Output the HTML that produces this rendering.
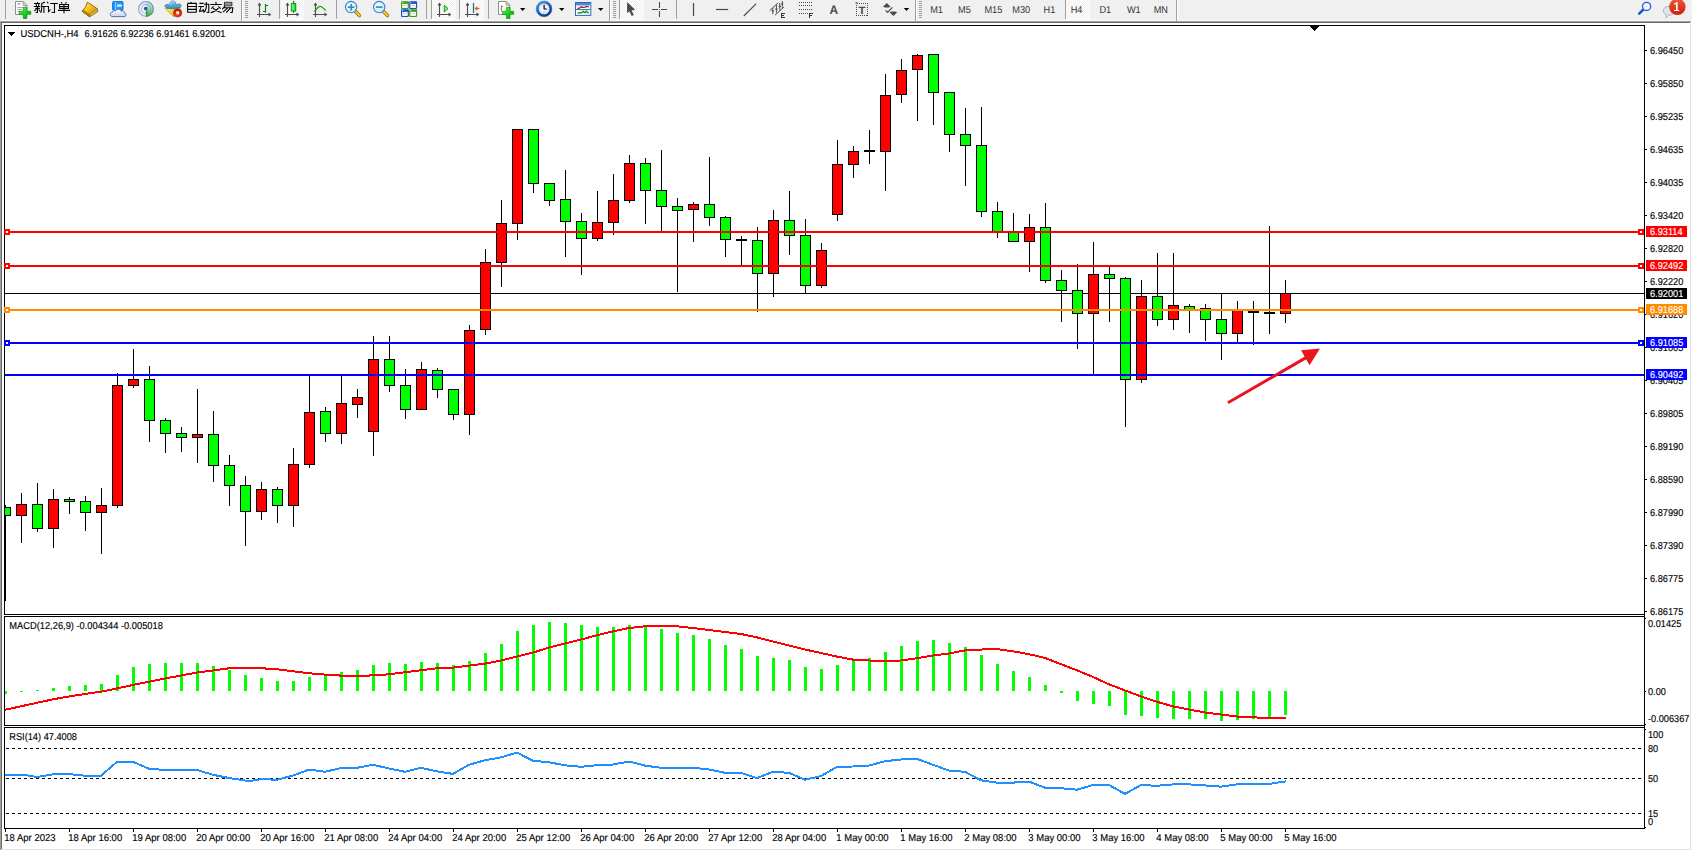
<!DOCTYPE html>
<html lang="zh"><head><meta charset="utf-8"><title>USDCNH-,H4</title>
<style>html,body{margin:0;padding:0;background:#f0f0f0;overflow:hidden}body{width:1692px;height:851px;position:relative;font-family:"Liberation Sans",sans-serif}svg{position:absolute;left:0;top:0;display:block}svg text{font-family:"Liberation Sans",sans-serif;text-rendering:geometricPrecision}</style>
</head><body>
<svg width="1692" height="851" viewBox="0 0 1692 851">
<g shape-rendering="crispEdges">
<rect x="0" y="0" width="1692" height="851" fill="#f0f0f0"/>
<rect x="0" y="20" width="1692" height="1" fill="#f8f8f8"/>
<rect x="0" y="21" width="1691" height="1" fill="#a0a0a0"/>
<rect x="0" y="21" width="1" height="830" fill="#a0a0a0"/>
<rect x="1" y="22" width="1689" height="1" fill="#696969"/>
<rect x="1" y="22" width="1" height="828" fill="#696969"/>
<rect x="2" y="23" width="1688" height="826" fill="#ffffff"/>
<rect x="1690" y="22" width="1" height="828" fill="#e3e3e3"/>
<rect x="1" y="849" width="1690" height="1" fill="#e3e3e3"/>
<rect x="1691" y="21" width="1" height="830" fill="#ffffff"/>
<rect x="0" y="850" width="1692" height="1" fill="#ffffff"/>
</g>
<g shape-rendering="crispEdges">
<rect x="4" y="25" width="1641" height="1" fill="#000"/>
<rect x="4" y="25" width="1" height="590" fill="#000"/>
<rect x="4" y="614" width="1641" height="1" fill="#000"/>
<rect x="4" y="616" width="1641" height="1" fill="#000"/>
<rect x="4" y="616" width="1" height="110" fill="#000"/>
<rect x="4" y="725" width="1641" height="1" fill="#000"/>
<rect x="4" y="727" width="1641" height="1" fill="#000"/>
<rect x="4" y="727" width="1" height="102" fill="#000"/>
<rect x="4" y="828" width="1641" height="1" fill="#000"/>
<rect x="1644" y="25" width="1" height="804" fill="#000"/>
<rect x="1310" y="26" width="9" height="1" fill="#000"/>
<rect x="1311" y="27" width="7" height="1" fill="#000"/>
<rect x="1312" y="28" width="5" height="1" fill="#000"/>
<rect x="1313" y="29" width="3" height="1" fill="#000"/>
<rect x="1314" y="30" width="1" height="1" fill="#000"/>
<rect x="5" y="293" width="1639" height="1" fill="#000"/>
<rect x="5" y="505" width="1" height="96" fill="#000"/>
<rect x="5" y="507" width="6" height="9" fill="#000"/>
<rect x="5" y="508" width="5" height="7" fill="#00ff00"/>
<rect x="21" y="493" width="1" height="50" fill="#000"/>
<rect x="16" y="504" width="11" height="12" fill="#000"/>
<rect x="17" y="505" width="9" height="10" fill="#ff0000"/>
<rect x="37" y="483" width="1" height="49" fill="#000"/>
<rect x="32" y="504" width="11" height="25" fill="#000"/>
<rect x="33" y="505" width="9" height="23" fill="#00ff00"/>
<rect x="53" y="489" width="1" height="59" fill="#000"/>
<rect x="48" y="499" width="11" height="30" fill="#000"/>
<rect x="49" y="500" width="9" height="28" fill="#ff0000"/>
<rect x="69" y="497" width="1" height="17" fill="#000"/>
<rect x="64" y="499" width="11" height="3" fill="#000"/>
<rect x="65" y="500" width="9" height="1" fill="#00ff00"/>
<rect x="85" y="496" width="1" height="35" fill="#000"/>
<rect x="80" y="501" width="11" height="12" fill="#000"/>
<rect x="81" y="502" width="9" height="10" fill="#00ff00"/>
<rect x="101" y="488" width="1" height="66" fill="#000"/>
<rect x="96" y="505" width="11" height="8" fill="#000"/>
<rect x="97" y="506" width="9" height="6" fill="#ff0000"/>
<rect x="117" y="373" width="1" height="135" fill="#000"/>
<rect x="112" y="385" width="11" height="121" fill="#000"/>
<rect x="113" y="386" width="9" height="119" fill="#ff0000"/>
<rect x="133" y="349" width="1" height="39" fill="#000"/>
<rect x="128" y="379" width="11" height="7" fill="#000"/>
<rect x="129" y="380" width="9" height="5" fill="#ff0000"/>
<rect x="149" y="366" width="1" height="76" fill="#000"/>
<rect x="144" y="379" width="11" height="42" fill="#000"/>
<rect x="145" y="380" width="9" height="40" fill="#00ff00"/>
<rect x="165" y="418" width="1" height="35" fill="#000"/>
<rect x="160" y="420" width="11" height="14" fill="#000"/>
<rect x="161" y="421" width="9" height="12" fill="#00ff00"/>
<rect x="181" y="427" width="1" height="25" fill="#000"/>
<rect x="176" y="433" width="11" height="5" fill="#000"/>
<rect x="177" y="434" width="9" height="3" fill="#00ff00"/>
<rect x="197" y="389" width="1" height="74" fill="#000"/>
<rect x="192" y="434" width="11" height="4" fill="#000"/>
<rect x="193" y="435" width="9" height="2" fill="#ff0000"/>
<rect x="213" y="411" width="1" height="71" fill="#000"/>
<rect x="208" y="434" width="11" height="32" fill="#000"/>
<rect x="209" y="435" width="9" height="30" fill="#00ff00"/>
<rect x="229" y="455" width="1" height="51" fill="#000"/>
<rect x="224" y="465" width="11" height="21" fill="#000"/>
<rect x="225" y="466" width="9" height="19" fill="#00ff00"/>
<rect x="245" y="476" width="1" height="70" fill="#000"/>
<rect x="240" y="485" width="11" height="27" fill="#000"/>
<rect x="241" y="486" width="9" height="25" fill="#00ff00"/>
<rect x="261" y="482" width="1" height="38" fill="#000"/>
<rect x="256" y="489" width="11" height="23" fill="#000"/>
<rect x="257" y="490" width="9" height="21" fill="#ff0000"/>
<rect x="277" y="487" width="1" height="36" fill="#000"/>
<rect x="272" y="489" width="11" height="17" fill="#000"/>
<rect x="273" y="490" width="9" height="15" fill="#00ff00"/>
<rect x="293" y="448" width="1" height="79" fill="#000"/>
<rect x="288" y="464" width="11" height="42" fill="#000"/>
<rect x="289" y="465" width="9" height="40" fill="#ff0000"/>
<rect x="309" y="375" width="1" height="93" fill="#000"/>
<rect x="304" y="412" width="11" height="53" fill="#000"/>
<rect x="305" y="413" width="9" height="51" fill="#ff0000"/>
<rect x="325" y="407" width="1" height="35" fill="#000"/>
<rect x="320" y="411" width="11" height="23" fill="#000"/>
<rect x="321" y="412" width="9" height="21" fill="#00ff00"/>
<rect x="341" y="375" width="1" height="69" fill="#000"/>
<rect x="336" y="403" width="11" height="31" fill="#000"/>
<rect x="337" y="404" width="9" height="29" fill="#ff0000"/>
<rect x="357" y="389" width="1" height="29" fill="#000"/>
<rect x="352" y="397" width="11" height="8" fill="#000"/>
<rect x="353" y="398" width="9" height="6" fill="#ff0000"/>
<rect x="373" y="336" width="1" height="120" fill="#000"/>
<rect x="368" y="359" width="11" height="73" fill="#000"/>
<rect x="369" y="360" width="9" height="71" fill="#ff0000"/>
<rect x="389" y="336" width="1" height="56" fill="#000"/>
<rect x="384" y="359" width="11" height="27" fill="#000"/>
<rect x="385" y="360" width="9" height="25" fill="#00ff00"/>
<rect x="405" y="369" width="1" height="50" fill="#000"/>
<rect x="400" y="385" width="11" height="25" fill="#000"/>
<rect x="401" y="386" width="9" height="23" fill="#00ff00"/>
<rect x="421" y="362" width="1" height="48" fill="#000"/>
<rect x="416" y="369" width="11" height="41" fill="#000"/>
<rect x="417" y="370" width="9" height="39" fill="#ff0000"/>
<rect x="437" y="368" width="1" height="30" fill="#000"/>
<rect x="432" y="370" width="11" height="20" fill="#000"/>
<rect x="433" y="371" width="9" height="18" fill="#00ff00"/>
<rect x="453" y="389" width="1" height="31" fill="#000"/>
<rect x="448" y="389" width="11" height="26" fill="#000"/>
<rect x="449" y="390" width="9" height="24" fill="#00ff00"/>
<rect x="469" y="325" width="1" height="110" fill="#000"/>
<rect x="464" y="330" width="11" height="85" fill="#000"/>
<rect x="465" y="331" width="9" height="83" fill="#ff0000"/>
<rect x="485" y="249" width="1" height="86" fill="#000"/>
<rect x="480" y="262" width="11" height="68" fill="#000"/>
<rect x="481" y="263" width="9" height="66" fill="#ff0000"/>
<rect x="501" y="200" width="1" height="87" fill="#000"/>
<rect x="496" y="223" width="11" height="40" fill="#000"/>
<rect x="497" y="224" width="9" height="38" fill="#ff0000"/>
<rect x="517" y="129" width="1" height="111" fill="#000"/>
<rect x="512" y="129" width="11" height="95" fill="#000"/>
<rect x="513" y="130" width="9" height="93" fill="#ff0000"/>
<rect x="533" y="129" width="1" height="64" fill="#000"/>
<rect x="528" y="129" width="11" height="55" fill="#000"/>
<rect x="529" y="130" width="9" height="53" fill="#00ff00"/>
<rect x="549" y="183" width="1" height="23" fill="#000"/>
<rect x="544" y="183" width="11" height="18" fill="#000"/>
<rect x="545" y="184" width="9" height="16" fill="#00ff00"/>
<rect x="565" y="170" width="1" height="87" fill="#000"/>
<rect x="560" y="199" width="11" height="23" fill="#000"/>
<rect x="561" y="200" width="9" height="21" fill="#00ff00"/>
<rect x="581" y="213" width="1" height="62" fill="#000"/>
<rect x="576" y="221" width="11" height="18" fill="#000"/>
<rect x="577" y="222" width="9" height="16" fill="#00ff00"/>
<rect x="597" y="191" width="1" height="50" fill="#000"/>
<rect x="592" y="222" width="11" height="17" fill="#000"/>
<rect x="593" y="223" width="9" height="15" fill="#ff0000"/>
<rect x="613" y="174" width="1" height="61" fill="#000"/>
<rect x="608" y="200" width="11" height="23" fill="#000"/>
<rect x="609" y="201" width="9" height="21" fill="#ff0000"/>
<rect x="629" y="155" width="1" height="48" fill="#000"/>
<rect x="624" y="163" width="11" height="38" fill="#000"/>
<rect x="625" y="164" width="9" height="36" fill="#ff0000"/>
<rect x="645" y="158" width="1" height="66" fill="#000"/>
<rect x="640" y="163" width="11" height="28" fill="#000"/>
<rect x="641" y="164" width="9" height="26" fill="#00ff00"/>
<rect x="661" y="150" width="1" height="82" fill="#000"/>
<rect x="656" y="190" width="11" height="17" fill="#000"/>
<rect x="657" y="191" width="9" height="15" fill="#00ff00"/>
<rect x="677" y="198" width="1" height="94" fill="#000"/>
<rect x="672" y="206" width="11" height="5" fill="#000"/>
<rect x="673" y="207" width="9" height="3" fill="#00ff00"/>
<rect x="693" y="202" width="1" height="40" fill="#000"/>
<rect x="688" y="204" width="11" height="6" fill="#000"/>
<rect x="689" y="205" width="9" height="4" fill="#ff0000"/>
<rect x="709" y="157" width="1" height="69" fill="#000"/>
<rect x="704" y="204" width="11" height="14" fill="#000"/>
<rect x="705" y="205" width="9" height="12" fill="#00ff00"/>
<rect x="725" y="216" width="1" height="41" fill="#000"/>
<rect x="720" y="217" width="11" height="23" fill="#000"/>
<rect x="721" y="218" width="9" height="21" fill="#00ff00"/>
<rect x="741" y="236" width="1" height="31" fill="#000"/>
<rect x="736" y="239" width="11" height="2" fill="#000"/>
<rect x="757" y="227" width="1" height="85" fill="#000"/>
<rect x="752" y="240" width="11" height="34" fill="#000"/>
<rect x="753" y="241" width="9" height="32" fill="#00ff00"/>
<rect x="773" y="210" width="1" height="87" fill="#000"/>
<rect x="768" y="220" width="11" height="54" fill="#000"/>
<rect x="769" y="221" width="9" height="52" fill="#ff0000"/>
<rect x="789" y="191" width="1" height="64" fill="#000"/>
<rect x="784" y="220" width="11" height="16" fill="#000"/>
<rect x="785" y="221" width="9" height="14" fill="#00ff00"/>
<rect x="805" y="219" width="1" height="75" fill="#000"/>
<rect x="800" y="235" width="11" height="51" fill="#000"/>
<rect x="801" y="236" width="9" height="49" fill="#00ff00"/>
<rect x="821" y="243" width="1" height="45" fill="#000"/>
<rect x="816" y="250" width="11" height="36" fill="#000"/>
<rect x="817" y="251" width="9" height="34" fill="#ff0000"/>
<rect x="837" y="140" width="1" height="81" fill="#000"/>
<rect x="832" y="164" width="11" height="51" fill="#000"/>
<rect x="833" y="165" width="9" height="49" fill="#ff0000"/>
<rect x="853" y="146" width="1" height="32" fill="#000"/>
<rect x="848" y="151" width="11" height="14" fill="#000"/>
<rect x="849" y="152" width="9" height="12" fill="#ff0000"/>
<rect x="869" y="130" width="1" height="34" fill="#000"/>
<rect x="864" y="150" width="11" height="2" fill="#000"/>
<rect x="885" y="74" width="1" height="117" fill="#000"/>
<rect x="880" y="95" width="11" height="57" fill="#000"/>
<rect x="881" y="96" width="9" height="55" fill="#ff0000"/>
<rect x="901" y="59" width="1" height="44" fill="#000"/>
<rect x="896" y="70" width="11" height="25" fill="#000"/>
<rect x="897" y="71" width="9" height="23" fill="#ff0000"/>
<rect x="917" y="54" width="1" height="67" fill="#000"/>
<rect x="912" y="55" width="11" height="15" fill="#000"/>
<rect x="913" y="56" width="9" height="13" fill="#ff0000"/>
<rect x="933" y="54" width="1" height="71" fill="#000"/>
<rect x="928" y="54" width="11" height="39" fill="#000"/>
<rect x="929" y="55" width="9" height="37" fill="#00ff00"/>
<rect x="949" y="92" width="1" height="60" fill="#000"/>
<rect x="944" y="92" width="11" height="43" fill="#000"/>
<rect x="945" y="93" width="9" height="41" fill="#00ff00"/>
<rect x="965" y="108" width="1" height="78" fill="#000"/>
<rect x="960" y="134" width="11" height="12" fill="#000"/>
<rect x="961" y="135" width="9" height="10" fill="#00ff00"/>
<rect x="981" y="107" width="1" height="110" fill="#000"/>
<rect x="976" y="145" width="11" height="67" fill="#000"/>
<rect x="977" y="146" width="9" height="65" fill="#00ff00"/>
<rect x="997" y="202" width="1" height="36" fill="#000"/>
<rect x="992" y="211" width="11" height="22" fill="#000"/>
<rect x="993" y="212" width="9" height="20" fill="#00ff00"/>
<rect x="1013" y="213" width="1" height="29" fill="#000"/>
<rect x="1008" y="231" width="11" height="11" fill="#000"/>
<rect x="1009" y="232" width="9" height="9" fill="#00ff00"/>
<rect x="1029" y="214" width="1" height="58" fill="#000"/>
<rect x="1024" y="227" width="11" height="15" fill="#000"/>
<rect x="1025" y="228" width="9" height="13" fill="#ff0000"/>
<rect x="1045" y="203" width="1" height="80" fill="#000"/>
<rect x="1040" y="227" width="11" height="54" fill="#000"/>
<rect x="1041" y="228" width="9" height="52" fill="#00ff00"/>
<rect x="1061" y="270" width="1" height="52" fill="#000"/>
<rect x="1056" y="280" width="11" height="11" fill="#000"/>
<rect x="1057" y="281" width="9" height="9" fill="#00ff00"/>
<rect x="1077" y="264" width="1" height="85" fill="#000"/>
<rect x="1072" y="290" width="11" height="24" fill="#000"/>
<rect x="1073" y="291" width="9" height="22" fill="#00ff00"/>
<rect x="1093" y="242" width="1" height="133" fill="#000"/>
<rect x="1088" y="274" width="11" height="40" fill="#000"/>
<rect x="1089" y="275" width="9" height="38" fill="#ff0000"/>
<rect x="1109" y="266" width="1" height="56" fill="#000"/>
<rect x="1104" y="274" width="11" height="5" fill="#000"/>
<rect x="1105" y="275" width="9" height="3" fill="#00ff00"/>
<rect x="1125" y="277" width="1" height="150" fill="#000"/>
<rect x="1120" y="278" width="11" height="102" fill="#000"/>
<rect x="1121" y="279" width="9" height="100" fill="#00ff00"/>
<rect x="1141" y="280" width="1" height="103" fill="#000"/>
<rect x="1136" y="296" width="11" height="84" fill="#000"/>
<rect x="1137" y="297" width="9" height="82" fill="#ff0000"/>
<rect x="1157" y="253" width="1" height="73" fill="#000"/>
<rect x="1152" y="296" width="11" height="24" fill="#000"/>
<rect x="1153" y="297" width="9" height="22" fill="#00ff00"/>
<rect x="1173" y="253" width="1" height="77" fill="#000"/>
<rect x="1168" y="305" width="11" height="15" fill="#000"/>
<rect x="1169" y="306" width="9" height="13" fill="#ff0000"/>
<rect x="1189" y="304" width="1" height="29" fill="#000"/>
<rect x="1184" y="306" width="11" height="4" fill="#000"/>
<rect x="1185" y="307" width="9" height="2" fill="#00ff00"/>
<rect x="1205" y="304" width="1" height="37" fill="#000"/>
<rect x="1200" y="308" width="11" height="12" fill="#000"/>
<rect x="1201" y="309" width="9" height="10" fill="#00ff00"/>
<rect x="1221" y="293" width="1" height="67" fill="#000"/>
<rect x="1216" y="319" width="11" height="15" fill="#000"/>
<rect x="1217" y="320" width="9" height="13" fill="#00ff00"/>
<rect x="1237" y="301" width="1" height="42" fill="#000"/>
<rect x="1232" y="310" width="11" height="24" fill="#000"/>
<rect x="1233" y="311" width="9" height="22" fill="#ff0000"/>
<rect x="1253" y="301" width="1" height="44" fill="#000"/>
<rect x="1248" y="311" width="11" height="2" fill="#000"/>
<rect x="1269" y="226" width="1" height="108" fill="#000"/>
<rect x="1264" y="312" width="11" height="2" fill="#000"/>
<rect x="1285" y="280" width="1" height="43" fill="#000"/>
<rect x="1280" y="293" width="11" height="21" fill="#000"/>
<rect x="1281" y="294" width="9" height="19" fill="#ff0000"/>
<rect x="4" y="231" width="1640" height="2" fill="#ff0000"/>
<rect x="4" y="229" width="6" height="6" fill="#ff0000"/>
<rect x="6" y="231" width="2" height="2" fill="#fff"/>
<rect x="1638" y="229" width="6" height="6" fill="#ff0000"/>
<rect x="1640" y="231" width="2" height="2" fill="#fff"/>
<rect x="4" y="265" width="1640" height="2" fill="#ff0000"/>
<rect x="4" y="263" width="6" height="6" fill="#ff0000"/>
<rect x="6" y="265" width="2" height="2" fill="#fff"/>
<rect x="1638" y="263" width="6" height="6" fill="#ff0000"/>
<rect x="1640" y="265" width="2" height="2" fill="#fff"/>
<rect x="4" y="309" width="1640" height="2" fill="#ff8c00"/>
<rect x="4" y="307" width="6" height="6" fill="#ff8c00"/>
<rect x="6" y="309" width="2" height="2" fill="#fff"/>
<rect x="1638" y="307" width="6" height="6" fill="#ff8c00"/>
<rect x="1640" y="309" width="2" height="2" fill="#fff"/>
<rect x="4" y="342" width="1640" height="2" fill="#0000ff"/>
<rect x="4" y="340" width="6" height="6" fill="#0000ff"/>
<rect x="6" y="342" width="2" height="2" fill="#fff"/>
<rect x="1638" y="340" width="6" height="6" fill="#0000ff"/>
<rect x="1640" y="342" width="2" height="2" fill="#fff"/>
<rect x="5" y="374" width="1639" height="2" fill="#0000ff"/>
</g>
<g fill="#e8141e" stroke="none"><path d="M1227.2 401.4L1306.6 355.6L1308.1 358.2L1228.6 404Z"/><path d="M1320 348.4L1301 350.3L1309.5 365.2Z"/></g>
<g shape-rendering="crispEdges">
<rect x="1645" y="50" width="2" height="1" fill="#000"/>
<rect x="1645" y="83" width="2" height="1" fill="#000"/>
<rect x="1645" y="116" width="2" height="1" fill="#000"/>
<rect x="1645" y="149" width="2" height="1" fill="#000"/>
<rect x="1645" y="182" width="2" height="1" fill="#000"/>
<rect x="1645" y="215" width="2" height="1" fill="#000"/>
<rect x="1645" y="248" width="2" height="1" fill="#000"/>
<rect x="1645" y="281" width="2" height="1" fill="#000"/>
<rect x="1645" y="314" width="2" height="1" fill="#000"/>
<rect x="1645" y="347" width="2" height="1" fill="#000"/>
<rect x="1645" y="380" width="2" height="1" fill="#000"/>
<rect x="1645" y="413" width="2" height="1" fill="#000"/>
<rect x="1645" y="446" width="2" height="1" fill="#000"/>
<rect x="1645" y="479" width="2" height="1" fill="#000"/>
<rect x="1645" y="512" width="2" height="1" fill="#000"/>
<rect x="1645" y="545" width="2" height="1" fill="#000"/>
<rect x="1645" y="578" width="2" height="1" fill="#000"/>
<rect x="1645" y="611" width="2" height="1" fill="#000"/>
</g>
<text transform="translate(1650 54) scale(0.92 1)" font-size="10" fill="#000" stroke="#000" stroke-width=".14" xml:space="preserve">6.96450</text>
<text transform="translate(1650 87) scale(0.92 1)" font-size="10" fill="#000" stroke="#000" stroke-width=".14" xml:space="preserve">6.95850</text>
<text transform="translate(1650 120) scale(0.92 1)" font-size="10" fill="#000" stroke="#000" stroke-width=".14" xml:space="preserve">6.95235</text>
<text transform="translate(1650 153) scale(0.92 1)" font-size="10" fill="#000" stroke="#000" stroke-width=".14" xml:space="preserve">6.94635</text>
<text transform="translate(1650 186) scale(0.92 1)" font-size="10" fill="#000" stroke="#000" stroke-width=".14" xml:space="preserve">6.94035</text>
<text transform="translate(1650 219) scale(0.92 1)" font-size="10" fill="#000" stroke="#000" stroke-width=".14" xml:space="preserve">6.93420</text>
<text transform="translate(1650 252) scale(0.92 1)" font-size="10" fill="#000" stroke="#000" stroke-width=".14" xml:space="preserve">6.92820</text>
<text transform="translate(1650 285) scale(0.92 1)" font-size="10" fill="#000" stroke="#000" stroke-width=".14" xml:space="preserve">6.92220</text>
<text transform="translate(1650 318) scale(0.92 1)" font-size="10" fill="#000" stroke="#000" stroke-width=".14" xml:space="preserve">6.91620</text>
<text transform="translate(1650 351) scale(0.92 1)" font-size="10" fill="#000" stroke="#000" stroke-width=".14" xml:space="preserve">6.91005</text>
<text transform="translate(1650 384) scale(0.92 1)" font-size="10" fill="#000" stroke="#000" stroke-width=".14" xml:space="preserve">6.90405</text>
<text transform="translate(1650 417) scale(0.92 1)" font-size="10" fill="#000" stroke="#000" stroke-width=".14" xml:space="preserve">6.89805</text>
<text transform="translate(1650 450) scale(0.92 1)" font-size="10" fill="#000" stroke="#000" stroke-width=".14" xml:space="preserve">6.89190</text>
<text transform="translate(1650 483) scale(0.92 1)" font-size="10" fill="#000" stroke="#000" stroke-width=".14" xml:space="preserve">6.88590</text>
<text transform="translate(1650 516) scale(0.92 1)" font-size="10" fill="#000" stroke="#000" stroke-width=".14" xml:space="preserve">6.87990</text>
<text transform="translate(1650 549) scale(0.92 1)" font-size="10" fill="#000" stroke="#000" stroke-width=".14" xml:space="preserve">6.87390</text>
<text transform="translate(1650 582) scale(0.92 1)" font-size="10" fill="#000" stroke="#000" stroke-width=".14" xml:space="preserve">6.86775</text>
<text transform="translate(1650 615) scale(0.92 1)" font-size="10" fill="#000" stroke="#000" stroke-width=".14" xml:space="preserve">6.86175</text>
<rect x="1646" y="226" width="41" height="11" fill="#ff0000" shape-rendering="crispEdges"/>
<text transform="translate(1650 235) scale(0.92 1)" font-size="10" fill="#fff" stroke="#fff" stroke-width=".14" xml:space="preserve">6.93114</text>
<rect x="1646" y="260" width="41" height="11" fill="#ff0000" shape-rendering="crispEdges"/>
<text transform="translate(1650 269) scale(0.92 1)" font-size="10" fill="#fff" stroke="#fff" stroke-width=".14" xml:space="preserve">6.92492</text>
<rect x="1646" y="288" width="41" height="11" fill="#000000" shape-rendering="crispEdges"/>
<text transform="translate(1650 297) scale(0.92 1)" font-size="10" fill="#fff" stroke="#fff" stroke-width=".14" xml:space="preserve">6.92001</text>
<rect x="1646" y="304" width="41" height="11" fill="#ff8c00" shape-rendering="crispEdges"/>
<text transform="translate(1650 313) scale(0.92 1)" font-size="10" fill="#fff" stroke="#fff" stroke-width=".14" xml:space="preserve">6.91688</text>
<rect x="1646" y="337" width="41" height="11" fill="#0000ff" shape-rendering="crispEdges"/>
<text transform="translate(1650 346) scale(0.92 1)" font-size="10" fill="#fff" stroke="#fff" stroke-width=".14" xml:space="preserve">6.91085</text>
<rect x="1646" y="369" width="41" height="11" fill="#0000ff" shape-rendering="crispEdges"/>
<text transform="translate(1650 378) scale(0.92 1)" font-size="10" fill="#fff" stroke="#fff" stroke-width=".14" xml:space="preserve">6.90492</text>
<path d="M8 32h7v1h-1v1h-1v1h-1v1h-1v-1h-1v-1h-1v-1h-1z" fill="#000" shape-rendering="crispEdges"/>
<text transform="translate(20.4 37) scale(0.942 1)" font-size="10" fill="#000" stroke="#000" stroke-width=".14" xml:space="preserve">USDCNH-,H4</text>
<text transform="translate(84.6 37) scale(0.921 1)" font-size="10" fill="#000" stroke="#000" stroke-width=".14" xml:space="preserve">6.91626 6.92236 6.91461 6.92001</text>
<g shape-rendering="crispEdges">
<rect x="5" y="691" width="2" height="3" fill="#00ff00"/>
<rect x="20" y="691" width="3" height="1" fill="#00ff00"/>
<rect x="36" y="690" width="3" height="1" fill="#00ff00"/>
<rect x="52" y="688" width="3" height="3" fill="#00ff00"/>
<rect x="68" y="686" width="3" height="5" fill="#00ff00"/>
<rect x="84" y="685" width="3" height="6" fill="#00ff00"/>
<rect x="100" y="684" width="3" height="7" fill="#00ff00"/>
<rect x="116" y="675" width="3" height="16" fill="#00ff00"/>
<rect x="132" y="667" width="3" height="24" fill="#00ff00"/>
<rect x="148" y="664" width="3" height="27" fill="#00ff00"/>
<rect x="164" y="663" width="3" height="28" fill="#00ff00"/>
<rect x="180" y="663" width="3" height="28" fill="#00ff00"/>
<rect x="196" y="663" width="3" height="28" fill="#00ff00"/>
<rect x="212" y="666" width="3" height="25" fill="#00ff00"/>
<rect x="228" y="670" width="3" height="21" fill="#00ff00"/>
<rect x="244" y="675" width="3" height="16" fill="#00ff00"/>
<rect x="260" y="678" width="3" height="13" fill="#00ff00"/>
<rect x="276" y="681" width="3" height="10" fill="#00ff00"/>
<rect x="292" y="681" width="3" height="10" fill="#00ff00"/>
<rect x="308" y="677" width="3" height="14" fill="#00ff00"/>
<rect x="324" y="676" width="3" height="15" fill="#00ff00"/>
<rect x="340" y="672" width="3" height="19" fill="#00ff00"/>
<rect x="356" y="670" width="3" height="21" fill="#00ff00"/>
<rect x="372" y="665" width="3" height="26" fill="#00ff00"/>
<rect x="388" y="663" width="3" height="28" fill="#00ff00"/>
<rect x="404" y="664" width="3" height="27" fill="#00ff00"/>
<rect x="420" y="662" width="3" height="29" fill="#00ff00"/>
<rect x="436" y="663" width="3" height="28" fill="#00ff00"/>
<rect x="452" y="665" width="3" height="26" fill="#00ff00"/>
<rect x="468" y="661" width="3" height="30" fill="#00ff00"/>
<rect x="484" y="653" width="3" height="38" fill="#00ff00"/>
<rect x="500" y="644" width="3" height="47" fill="#00ff00"/>
<rect x="516" y="631" width="3" height="60" fill="#00ff00"/>
<rect x="532" y="625" width="3" height="66" fill="#00ff00"/>
<rect x="548" y="622" width="3" height="69" fill="#00ff00"/>
<rect x="564" y="623" width="3" height="68" fill="#00ff00"/>
<rect x="580" y="625" width="3" height="66" fill="#00ff00"/>
<rect x="596" y="627" width="3" height="64" fill="#00ff00"/>
<rect x="612" y="627" width="3" height="64" fill="#00ff00"/>
<rect x="628" y="625" width="3" height="66" fill="#00ff00"/>
<rect x="644" y="626" width="3" height="65" fill="#00ff00"/>
<rect x="660" y="629" width="3" height="62" fill="#00ff00"/>
<rect x="676" y="633" width="3" height="58" fill="#00ff00"/>
<rect x="692" y="635" width="3" height="56" fill="#00ff00"/>
<rect x="708" y="639" width="3" height="52" fill="#00ff00"/>
<rect x="724" y="645" width="3" height="46" fill="#00ff00"/>
<rect x="740" y="649" width="3" height="42" fill="#00ff00"/>
<rect x="756" y="656" width="3" height="35" fill="#00ff00"/>
<rect x="772" y="658" width="3" height="33" fill="#00ff00"/>
<rect x="788" y="660" width="3" height="31" fill="#00ff00"/>
<rect x="804" y="667" width="3" height="24" fill="#00ff00"/>
<rect x="820" y="669" width="3" height="22" fill="#00ff00"/>
<rect x="836" y="665" width="3" height="26" fill="#00ff00"/>
<rect x="852" y="660" width="3" height="31" fill="#00ff00"/>
<rect x="868" y="658" width="3" height="33" fill="#00ff00"/>
<rect x="884" y="652" width="3" height="39" fill="#00ff00"/>
<rect x="900" y="646" width="3" height="45" fill="#00ff00"/>
<rect x="916" y="641" width="3" height="50" fill="#00ff00"/>
<rect x="932" y="640" width="3" height="51" fill="#00ff00"/>
<rect x="948" y="643" width="3" height="48" fill="#00ff00"/>
<rect x="964" y="647" width="3" height="44" fill="#00ff00"/>
<rect x="980" y="655" width="3" height="36" fill="#00ff00"/>
<rect x="996" y="664" width="3" height="27" fill="#00ff00"/>
<rect x="1012" y="671" width="3" height="20" fill="#00ff00"/>
<rect x="1028" y="677" width="3" height="14" fill="#00ff00"/>
<rect x="1044" y="685" width="3" height="6" fill="#00ff00"/>
<rect x="1060" y="691" width="3" height="2" fill="#00ff00"/>
<rect x="1076" y="691" width="3" height="10" fill="#00ff00"/>
<rect x="1092" y="691" width="3" height="13" fill="#00ff00"/>
<rect x="1108" y="691" width="3" height="15" fill="#00ff00"/>
<rect x="1124" y="691" width="3" height="24" fill="#00ff00"/>
<rect x="1140" y="691" width="3" height="25" fill="#00ff00"/>
<rect x="1156" y="691" width="3" height="27" fill="#00ff00"/>
<rect x="1172" y="691" width="3" height="28" fill="#00ff00"/>
<rect x="1188" y="691" width="3" height="28" fill="#00ff00"/>
<rect x="1204" y="691" width="3" height="28" fill="#00ff00"/>
<rect x="1220" y="691" width="3" height="30" fill="#00ff00"/>
<rect x="1236" y="691" width="3" height="29" fill="#00ff00"/>
<rect x="1252" y="691" width="3" height="28" fill="#00ff00"/>
<rect x="1268" y="691" width="3" height="27" fill="#00ff00"/>
<rect x="1284" y="691" width="3" height="24" fill="#00ff00"/>
<polyline points="5,709.8 21,706.3 37,702.8 53,699.3 69,696.5 85,694 101,691.7 117,688.4 133,685 149,681.7 165,678.5 181,675.5 197,672.5 213,670.5 229,668.3 245,668 261,668.2 277,669.3 293,671.3 309,673.2 325,674.6 341,675.6 357,675.9 373,675.4 389,674.3 405,672.3 421,670.3 437,668.3 453,667.6 469,665.6 485,663.6 501,660.6 517,656.6 533,652.6 549,647.5 565,643.5 581,639.5 597,635.2 613,631.4 629,628 645,626.3 661,626 677,626.3 693,628 709,630 725,632 741,634 757,637.4 773,641.5 789,645.5 805,649.5 821,653 837,656.6 853,659.6 869,660.5 885,660.9 901,660.5 917,658.2 933,655.5 949,653.5 965,650.4 981,649.8 985,648.8 997,648.8 1001,649.8 1013,651.3 1029,654.2 1045,657.9 1061,664.2 1077,670.3 1093,677 1109,684.3 1125,690.4 1141,696.4 1157,701.8 1173,706.4 1189,709.5 1205,712.5 1221,714.5 1237,716.5 1253,717.4 1269,717.8 1286,717.8" fill="none" stroke="#ff0000" stroke-width="2"/>
<rect x="1645" y="618" width="1" height="1" fill="#000"/>
<rect x="1645" y="691" width="1" height="1" fill="#000"/>
<rect x="1645" y="724" width="1" height="1" fill="#000"/>
</g>
<text transform="translate(1648 627) scale(0.92 1)" font-size="10" fill="#000" stroke="#000" stroke-width=".14" xml:space="preserve">0.01425</text>
<text transform="translate(1648 695) scale(0.92 1)" font-size="10" fill="#000" stroke="#000" stroke-width=".14" xml:space="preserve">0.00</text>
<text transform="translate(1648 722) scale(0.92 1)" font-size="10" fill="#000" stroke="#000" stroke-width=".14" xml:space="preserve">-0.006367</text>
<text transform="translate(9.3 629) scale(0.93 1)" font-size="10" fill="#000" stroke="#000" stroke-width=".14" xml:space="preserve">MACD(12,26,9) -0.004344 -0.005018</text>
<g shape-rendering="crispEdges">
<path d="M6 748.5H1643" stroke="#000" stroke-width="1" stroke-dasharray="3 3" fill="none"/>
<path d="M6 778.5H1643" stroke="#000" stroke-width="1" stroke-dasharray="3 3" fill="none"/>
<path d="M6 813.5H1643" stroke="#000" stroke-width="1" stroke-dasharray="3 3" fill="none"/>
<polyline points="5,775.2 21,775.2 27,775.3 37,777 53,774.4 69,774.1 85,775.7 101,775.7 117,761.8 133,761.8 149,768.7 165,770 181,770 197,770 213,774.8 229,778 245,780.5 253,780.5 261,779.2 277,779.7 293,775.6 309,769.5 325,771.8 341,768.1 357,767.8 373,764.8 389,768.5 405,771.8 421,767.8 437,771.4 453,773.9 469,764.8 485,760.2 501,757.4 517,752.6 533,760.7 549,762.3 565,765.3 581,766.8 597,765.2 613,764.5 629,761.5 645,765.6 661,767.8 677,767.8 693,767.8 709,769.5 725,772.8 741,772.8 757,778.1 773,771.8 789,772.8 805,779.7 821,776.1 837,766.8 853,766.5 869,765.6 885,761.2 901,759.5 917,758.9 933,764.8 949,770.6 965,771.8 981,780.3 997,782.6 1013,782.6 1029,781.6 1045,787.7 1061,788.2 1077,789.7 1093,785 1109,785 1125,793.9 1141,785 1157,785.8 1173,784.4 1189,784.4 1205,785.4 1221,786.7 1237,784.4 1253,783.9 1269,783.9 1286,781.4" fill="none" stroke="#1e90ff" stroke-width="2"/>
<rect x="1645" y="729" width="1" height="1" fill="#000"/>
<rect x="1645" y="827" width="1" height="1" fill="#000"/>
<rect x="5" y="829" width="1" height="3" fill="#000"/>
<rect x="69" y="829" width="1" height="3" fill="#000"/>
<rect x="133" y="829" width="1" height="3" fill="#000"/>
<rect x="197" y="829" width="1" height="3" fill="#000"/>
<rect x="261" y="829" width="1" height="3" fill="#000"/>
<rect x="325" y="829" width="1" height="3" fill="#000"/>
<rect x="389" y="829" width="1" height="3" fill="#000"/>
<rect x="453" y="829" width="1" height="3" fill="#000"/>
<rect x="517" y="829" width="1" height="3" fill="#000"/>
<rect x="581" y="829" width="1" height="3" fill="#000"/>
<rect x="645" y="829" width="1" height="3" fill="#000"/>
<rect x="709" y="829" width="1" height="3" fill="#000"/>
<rect x="773" y="829" width="1" height="3" fill="#000"/>
<rect x="837" y="829" width="1" height="3" fill="#000"/>
<rect x="901" y="829" width="1" height="3" fill="#000"/>
<rect x="965" y="829" width="1" height="3" fill="#000"/>
<rect x="1029" y="829" width="1" height="3" fill="#000"/>
<rect x="1093" y="829" width="1" height="3" fill="#000"/>
<rect x="1157" y="829" width="1" height="3" fill="#000"/>
<rect x="1221" y="829" width="1" height="3" fill="#000"/>
<rect x="1285" y="829" width="1" height="3" fill="#000"/>
</g>
<text transform="translate(1648 738) scale(0.92 1)" font-size="10" fill="#000" stroke="#000" stroke-width=".14" xml:space="preserve">100</text>
<text transform="translate(1648 752) scale(0.92 1)" font-size="10" fill="#000" stroke="#000" stroke-width=".14" xml:space="preserve">80</text>
<text transform="translate(1648 782) scale(0.92 1)" font-size="10" fill="#000" stroke="#000" stroke-width=".14" xml:space="preserve">50</text>
<text transform="translate(1648 817) scale(0.92 1)" font-size="10" fill="#000" stroke="#000" stroke-width=".14" xml:space="preserve">15</text>
<text transform="translate(1648 825) scale(0.92 1)" font-size="10" fill="#000" stroke="#000" stroke-width=".14" xml:space="preserve">0</text>
<text transform="translate(9.3 740) scale(0.922 1)" font-size="10" fill="#000" stroke="#000" stroke-width=".14" xml:space="preserve">RSI(14) 47.4008</text>
<text transform="translate(4.3 841) scale(0.95 1)" font-size="10" fill="#000" stroke="#000" stroke-width=".14" xml:space="preserve">18 Apr 2023</text>
<text transform="translate(68.3 841) scale(0.95 1)" font-size="10" fill="#000" stroke="#000" stroke-width=".14" xml:space="preserve">18 Apr 16:00</text>
<text transform="translate(132.3 841) scale(0.95 1)" font-size="10" fill="#000" stroke="#000" stroke-width=".14" xml:space="preserve">19 Apr 08:00</text>
<text transform="translate(196.3 841) scale(0.95 1)" font-size="10" fill="#000" stroke="#000" stroke-width=".14" xml:space="preserve">20 Apr 00:00</text>
<text transform="translate(260.3 841) scale(0.95 1)" font-size="10" fill="#000" stroke="#000" stroke-width=".14" xml:space="preserve">20 Apr 16:00</text>
<text transform="translate(324.3 841) scale(0.95 1)" font-size="10" fill="#000" stroke="#000" stroke-width=".14" xml:space="preserve">21 Apr 08:00</text>
<text transform="translate(388.3 841) scale(0.95 1)" font-size="10" fill="#000" stroke="#000" stroke-width=".14" xml:space="preserve">24 Apr 04:00</text>
<text transform="translate(452.3 841) scale(0.95 1)" font-size="10" fill="#000" stroke="#000" stroke-width=".14" xml:space="preserve">24 Apr 20:00</text>
<text transform="translate(516.3 841) scale(0.95 1)" font-size="10" fill="#000" stroke="#000" stroke-width=".14" xml:space="preserve">25 Apr 12:00</text>
<text transform="translate(580.3 841) scale(0.95 1)" font-size="10" fill="#000" stroke="#000" stroke-width=".14" xml:space="preserve">26 Apr 04:00</text>
<text transform="translate(644.3 841) scale(0.95 1)" font-size="10" fill="#000" stroke="#000" stroke-width=".14" xml:space="preserve">26 Apr 20:00</text>
<text transform="translate(708.3 841) scale(0.95 1)" font-size="10" fill="#000" stroke="#000" stroke-width=".14" xml:space="preserve">27 Apr 12:00</text>
<text transform="translate(772.3 841) scale(0.95 1)" font-size="10" fill="#000" stroke="#000" stroke-width=".14" xml:space="preserve">28 Apr 04:00</text>
<text transform="translate(836.3 841) scale(0.95 1)" font-size="10" fill="#000" stroke="#000" stroke-width=".14" xml:space="preserve">1 May 00:00</text>
<text transform="translate(900.3 841) scale(0.95 1)" font-size="10" fill="#000" stroke="#000" stroke-width=".14" xml:space="preserve">1 May 16:00</text>
<text transform="translate(964.3 841) scale(0.95 1)" font-size="10" fill="#000" stroke="#000" stroke-width=".14" xml:space="preserve">2 May 08:00</text>
<text transform="translate(1028.3 841) scale(0.95 1)" font-size="10" fill="#000" stroke="#000" stroke-width=".14" xml:space="preserve">3 May 00:00</text>
<text transform="translate(1092.3 841) scale(0.95 1)" font-size="10" fill="#000" stroke="#000" stroke-width=".14" xml:space="preserve">3 May 16:00</text>
<text transform="translate(1156.3 841) scale(0.95 1)" font-size="10" fill="#000" stroke="#000" stroke-width=".14" xml:space="preserve">4 May 08:00</text>
<text transform="translate(1220.3 841) scale(0.95 1)" font-size="10" fill="#000" stroke="#000" stroke-width=".14" xml:space="preserve">5 May 00:00</text>
<text transform="translate(1284.3 841) scale(0.95 1)" font-size="10" fill="#000" stroke="#000" stroke-width=".14" xml:space="preserve">5 May 16:00</text>
<defs>
<pattern id="chk" width="2" height="2" patternUnits="userSpaceOnUse"><rect width="2" height="2" fill="#f0f0f0"/><rect width="1" height="1" fill="#fff"/><rect x="1" y="1" width="1" height="1" fill="#fff"/></pattern>
<linearGradient id="gplus" x1="0" y1="0" x2="1" y2="1"><stop offset="0" stop-color="#6dff6d"/><stop offset=".5" stop-color="#14d914"/><stop offset="1" stop-color="#009a00"/></linearGradient>
<linearGradient id="gold" x1="0" y1="0" x2="1" y2="1"><stop offset="0" stop-color="#fff08a"/><stop offset=".45" stop-color="#f2c11c"/><stop offset="1" stop-color="#b97d05"/></linearGradient>
<linearGradient id="gcan" x1="0" y1="0" x2="1" y2="0"><stop offset="0" stop-color="#9dff9d"/><stop offset="1" stop-color="#0fd60f"/></linearGradient>
<linearGradient id="gbadge" x1="0" y1="0" x2="0" y2="1"><stop offset="0" stop-color="#ea5a3a"/><stop offset="1" stop-color="#d41c0c"/></linearGradient>
<linearGradient id="gcloud" x1="0" y1="0" x2="0" y2="1"><stop offset="0" stop-color="#ffffff"/><stop offset="1" stop-color="#c4d6ee"/></linearGradient>
<radialGradient id="glens" cx=".4" cy=".35" r=".7"><stop offset="0" stop-color="#ffffff"/><stop offset="1" stop-color="#bfe6fa"/></radialGradient>
<linearGradient id="ghat" x1="0" y1="0" x2="0" y2="1"><stop offset="0" stop-color="#8fd0ee"/><stop offset="1" stop-color="#2f86c0"/></linearGradient>
<linearGradient id="gface" x1="0" y1="0" x2="1" y2="1"><stop offset="0" stop-color="#fff27a"/><stop offset="1" stop-color="#e0a800"/></linearGradient>
</defs>
<g shape-rendering="crispEdges">
<rect x="5" y="0" width="1" height="19" fill="#a0a0a0"/>
<rect x="279" y="0" width="1" height="19" fill="#a0a0a0"/>
<rect x="336" y="0" width="1" height="19" fill="#a0a0a0"/>
<rect x="426" y="0" width="1" height="19" fill="#a0a0a0"/>
<rect x="431" y="0" width="1" height="19" fill="#a0a0a0"/>
<rect x="459" y="0" width="1" height="19" fill="#a0a0a0"/>
<rect x="488" y="0" width="1" height="19" fill="#a0a0a0"/>
<rect x="619" y="0" width="1" height="19" fill="#a0a0a0"/>
<rect x="676" y="0" width="1" height="19" fill="#a0a0a0"/>
<rect x="1065" y="0" width="1" height="19" fill="#a0a0a0"/>
<rect x="241" y="0" width="1" height="21" fill="#a0a0a0"/>
<rect x="609" y="0" width="1" height="21" fill="#a0a0a0"/>
<rect x="915" y="0" width="1" height="21" fill="#a0a0a0"/>
<rect x="1176" y="0" width="1" height="21" fill="#a0a0a0"/>
<rect x="242" y="0" width="1" height="21" fill="#ffffff"/>
<rect x="610" y="0" width="1" height="21" fill="#ffffff"/>
<rect x="916" y="0" width="1" height="21" fill="#ffffff"/>
<rect x="1177" y="0" width="1" height="21" fill="#ffffff"/>
<rect x="245" y="1" width="3" height="1" fill="#a0a0a0"/>
<rect x="245" y="3" width="3" height="1" fill="#a0a0a0"/>
<rect x="245" y="5" width="3" height="1" fill="#a0a0a0"/>
<rect x="245" y="7" width="3" height="1" fill="#a0a0a0"/>
<rect x="245" y="9" width="3" height="1" fill="#a0a0a0"/>
<rect x="245" y="11" width="3" height="1" fill="#a0a0a0"/>
<rect x="245" y="13" width="3" height="1" fill="#a0a0a0"/>
<rect x="245" y="15" width="3" height="1" fill="#a0a0a0"/>
<rect x="245" y="17" width="3" height="1" fill="#a0a0a0"/>
<rect x="613" y="1" width="3" height="1" fill="#a0a0a0"/>
<rect x="613" y="3" width="3" height="1" fill="#a0a0a0"/>
<rect x="613" y="5" width="3" height="1" fill="#a0a0a0"/>
<rect x="613" y="7" width="3" height="1" fill="#a0a0a0"/>
<rect x="613" y="9" width="3" height="1" fill="#a0a0a0"/>
<rect x="613" y="11" width="3" height="1" fill="#a0a0a0"/>
<rect x="613" y="13" width="3" height="1" fill="#a0a0a0"/>
<rect x="613" y="15" width="3" height="1" fill="#a0a0a0"/>
<rect x="613" y="17" width="3" height="1" fill="#a0a0a0"/>
<rect x="919" y="1" width="3" height="1" fill="#a0a0a0"/>
<rect x="919" y="3" width="3" height="1" fill="#a0a0a0"/>
<rect x="919" y="5" width="3" height="1" fill="#a0a0a0"/>
<rect x="919" y="7" width="3" height="1" fill="#a0a0a0"/>
<rect x="919" y="9" width="3" height="1" fill="#a0a0a0"/>
<rect x="919" y="11" width="3" height="1" fill="#a0a0a0"/>
<rect x="919" y="13" width="3" height="1" fill="#a0a0a0"/>
<rect x="919" y="15" width="3" height="1" fill="#a0a0a0"/>
<rect x="919" y="17" width="3" height="1" fill="#a0a0a0"/>
<rect x="281" y="0" width="23" height="19" fill="url(#chk)"/>
<rect x="280" y="19" width="24" height="1" fill="#ffffff"/>
<rect x="432" y="0" width="24" height="19" fill="url(#chk)"/>
<rect x="431" y="19" width="25" height="1" fill="#ffffff"/>
<rect x="460" y="0" width="24" height="19" fill="url(#chk)"/>
<rect x="459" y="19" width="25" height="1" fill="#ffffff"/>
<rect x="620" y="0" width="24" height="19" fill="url(#chk)"/>
<rect x="619" y="19" width="25" height="1" fill="#ffffff"/>
<rect x="1066" y="0" width="24" height="19" fill="url(#chk)"/>
<rect x="1065" y="19" width="25" height="1" fill="#ffffff"/>
</g>
<g transform="translate(15 0)"><path d="M.5 1.5H8L12 5.5V14.5H.5Z" fill="#fff" stroke="#8e8e8e"/><path d="M8 1.5V5.5H12Z" fill="#e4e4e4" stroke="#8e8e8e" stroke-width=".8"/><rect x="2.5" y="3.2" width="3" height="1.3" fill="#9a9a9a"/><path d="M2.5 7.5H8M2.5 9.5H7M2.5 11.5H5" stroke="#a8a8a8" stroke-width="1"/><path d="M8.3 7.3H11.8V11.3H15.8V14.3H11.8V18.5H8.3V14.3H4.2V11.3H8.3Z" fill="url(#gplus)" stroke="#0a930a" stroke-width=".7"/></g>
<g fill="none" stroke="#000" stroke-width="1.08" stroke-linecap="butt" role="img" aria-label="新订单 自动交易"><title>新订单 / 自动交易</title>
<path d="M37.5 1.9V3.4M34 3.5H40.2M36 4.2L36.6 6M39 4.2L38.4 6M33.9 6.5H40.4M35.3 8.4H39.8M37.5 6.5V12.4L35.6 12.2M36.4 9.3L34.3 10.9M38.7 9.5L40.3 11.4M45 2.1L41.7 3.6M41.7 3.6V8.2Q41.6 11.2 40.7 12.9M41.7 6.5H46.3M43.9 6.5V13"/>
<path d="M47.2 1.9L48.3 3.3M46.4 6.5H48.5V11.7L50.6 9.5M50.3 3.5H57.9M54.5 3.5V12.5L51.6 12.3"/>
<path d="M61 2.2L62.1 3.5M66.5 2.2L65.3 3.5M59.6 4.5H68.5V8.4H59.6ZM59.6 6.45H68.5M64 4.5V13.2M58 10.4H70"/>
<path d="M191.3 1.9L190.6 3.4M187.6 3.4H196.3V12.6M187.6 3.4V12.6M187.6 6.45H196.3M187.6 9.4H196.3M187.6 12.2H196.3"/>
<path d="M199.4 3.4H203.7M198.3 6.45H204.1M201.2 6.6L199.5 11.3L203.6 10.6M202.9 9L204.3 12.2M204 4.3H208.8V12.5L206.5 12.3M206.3 2.1V7.4Q206 10.5 203.6 12.7"/>
<path d="M215.8 1.9L216.2 3.8M210.3 4.5H221.7M213.6 6.3L211.3 8.6M218.3 6.3L220.7 8.6M218.5 8.2Q216 11.4 210.6 12.8M213 8.2Q216 11.4 221.6 12.8"/>
<path d="M224.4 2.3H231.9V5.8H224.4ZM224.4 4.05H231.9" stroke-width=".8"/><path d="M225 6.1L222.2 9.3M223.8 7.7H232.8L232.2 12.4L230.2 12.5M227.7 7.9L223 12.2M230.8 7.9L226.3 12.5"/>
</g>
<path d="M87.4 2.1L97.3 8.8L97.8 11.4L89.6 16.8L82.1 11.2L85.6 6.9Z" fill="url(#gold)" stroke="#8f5f00" stroke-width=".9"/>
<path d="M97.3 8.8L97.8 11.4L89.6 16.8L89.3 14.4Z" fill="#d9b45a" stroke="#8f5f00" stroke-width=".5"/><path d="M82.1 11.2L89.6 16.8L89.3 14.4L83 9.9Z" fill="#b07a08" stroke="#8f5f00" stroke-width=".5"/>
<rect x="112.6" y="1.6" width="10.4" height="8.6" rx="1" fill="#1d9cff" stroke="#0b64d6" stroke-width=".9"/>
<path d="M115.5 2V10" stroke="#7fd0ff" stroke-width="1"/><rect x="117" y="4.5" width="5" height="2.2" fill="#d6efff"/>
<path d="M112.8 16.6C109.6 16.6 109.4 12.6 112.4 12.2C112.6 10.6 114.4 10.2 115.4 11C116.4 8.6 120.6 8.8 121.2 11.2C123.2 10.4 124.8 11.8 124.4 13C126.6 13.2 126.6 16.6 124 16.6Z" fill="url(#gcloud)" stroke="#46679f" stroke-width=".9"/>
<linearGradient id="grad1" x1="0" y1="0" x2="0" y2="1"><stop offset="0" stop-color="#b4dcb4" stop-opacity=".35"/><stop offset="1" stop-color="#2ca02c" stop-opacity=".9"/></linearGradient>
<g fill="none"><circle cx="146" cy="8.9" r="7.6" fill="#f4f4ee" opacity=".85"/><path d="M146 8.9V1.1A7.8 7.8 0 0 1 146.4 16.7Z" fill="url(#grad1)"/><circle cx="146" cy="8.9" r="7.3" stroke="#3f6fd4" stroke-width="1.1" opacity=".62"/><circle cx="146" cy="8.9" r="4.5" stroke="#5a88dc" stroke-width="1.1" opacity=".55"/><circle cx="145.7" cy="8.6" r="1.8" fill="#1c4fd0"/><path d="M146.6 9V16.8" stroke="#18a818" stroke-width="1.3"/></g>
<radialGradient id="gstop" cx=".45" cy=".7" r=".7"><stop offset="0" stop-color="#ff4a1a"/><stop offset="1" stop-color="#b81200"/></radialGradient>
<path d="M165.2 8.5L180.8 7.2L173.7 16.7Z" fill="url(#gface)" stroke="#c89200" stroke-width=".7"/>
<path d="M165 6.3C164.8 3.8 168.4 4.4 169.5 5C169.9 2.2 171 1 172.8 1C174.6 1 175.7 2.2 176.1 4.7C178 4 181.1 3.4 181.1 5.6C181.1 7.9 176.6 8.7 173 8.7C169 8.7 165.2 8.3 165 6.3Z" fill="url(#ghat)" stroke="#1f7aa8" stroke-width=".7"/>
<path d="M170.3 4.9C170.6 2.8 171.4 1.8 172.8 1.8C173.6 1.8 174.2 2.2 174.6 3" fill="none" stroke="#b4e2f8" stroke-width=".9"/>
<circle cx="177.6" cy="12.9" r="4.1" fill="url(#gstop)" stroke="#a81200" stroke-width=".5"/><rect x="176.3" y="11.3" width="2.8" height="2.8" fill="#fff"/>
<g stroke="#4d4d4d" fill="#4d4d4d" stroke-width="1.1"><path d="M259.5 17V3.5M257 14.5H270" fill="none"/><path d="M257.5 5.5L259.5 2.6L261.5 5.5ZM268.5 12.5L271.4 14.5L268.5 16.5Z" stroke="none"/></g>
<path d="M265.5 4V12.8M265.5 5.5H268.2M263 11.5H265.5" fill="none" stroke="#008a00" stroke-width="1.2"/>
<g stroke="#4d4d4d" fill="#4d4d4d" stroke-width="1.1"><path d="M287.5 17V3.5M285 14.5H298" fill="none"/><path d="M285.5 5.5L287.5 2.6L289.5 5.5ZM296.5 12.5L299.4 14.5L296.5 16.5Z" stroke="none"/></g>
<path d="M293.5 1V13" stroke="#008a00" stroke-width="1.2"/><rect x="291.3" y="3.6" width="4.5" height="7.4" fill="url(#gcan)" stroke="#008a00" stroke-width=".9"/>
<g stroke="#4d4d4d" fill="#4d4d4d" stroke-width="1.1"><path d="M315.5 17V3.5M313 14.5H326" fill="none"/><path d="M313.5 5.5L315.5 2.6L317.5 5.5ZM324.5 12.5L327.4 14.5L324.5 16.5Z" stroke="none"/></g>
<path d="M314.2 11.6Q318 6.6 320 6.3Q322 6.2 325.6 10.6" fill="none" stroke="#1f9a1f" stroke-width="1.2"/>
<path d="M355.1 11L359.40000000000003 15.5" stroke="#8c6a00" stroke-width="3.4" stroke-linecap="round"/><path d="M355.1 11L359.40000000000003 15.5" stroke="#f0cc28" stroke-width="2" stroke-linecap="round"/>
<circle cx="351.1" cy="7.1" r="5.7" fill="url(#glens)" stroke="#3b7fcc" stroke-width="1.1"/>
<path d="M347.8 7.1H354.40000000000003M351.1 3.8V10.4" stroke="#3a8fb4" stroke-width="1.7" fill="none"/>
<path d="M383.2 11L387.5 15.5" stroke="#8c6a00" stroke-width="3.4" stroke-linecap="round"/><path d="M383.2 11L387.5 15.5" stroke="#f0cc28" stroke-width="2" stroke-linecap="round"/>
<circle cx="379.2" cy="7.1" r="5.7" fill="url(#glens)" stroke="#3b7fcc" stroke-width="1.1"/>
<path d="M375.9 7.1H382.5" stroke="#3a8fb4" stroke-width="1.7" fill="none"/>
<rect x="401" y="1.2" width="7.9" height="7.7" rx=".8" fill="#3f9c1c"/><rect x="402.2" y="3.9000000000000004" width="5.5" height="4" fill="#fff"/><rect x="403" y="5.0" width="3.8" height=".9" fill="#b5e89a"/><rect x="402" y="2.1" width="1" height="1" fill="#dfe8ff"/>
<rect x="409.2" y="1.2" width="7.9" height="7.7" rx=".8" fill="#1f4fc8"/><rect x="410.4" y="3.9000000000000004" width="5.5" height="4" fill="#fff"/><rect x="411.2" y="5.0" width="3.8" height=".9" fill="#b9cdf5"/><rect x="410.2" y="2.1" width="1" height="1" fill="#dfe8ff"/>
<rect x="401" y="9.2" width="7.9" height="7.7" rx=".8" fill="#1f4fc8"/><rect x="402.2" y="11.899999999999999" width="5.5" height="4" fill="#fff"/><rect x="403" y="13.0" width="3.8" height=".9" fill="#b9cdf5"/><rect x="402" y="10.1" width="1" height="1" fill="#dfe8ff"/>
<rect x="409.2" y="9.2" width="7.9" height="7.7" rx=".8" fill="#3f9c1c"/><rect x="410.4" y="11.899999999999999" width="5.5" height="4" fill="#fff"/><rect x="411.2" y="13.0" width="3.8" height=".9" fill="#b5e89a"/><rect x="410.2" y="10.1" width="1" height="1" fill="#dfe8ff"/>
<g stroke="#4d4d4d" fill="#4d4d4d" stroke-width="1.1"><path d="M439.5 17V3.5M437 14.5H450" fill="none"/><path d="M437.5 5.5L439.5 2.6L441.5 5.5ZM448.5 12.5L451.4 14.5L448.5 16.5Z" stroke="none"/></g>
<path d="M444.3 5.2L448 8.6L444.3 12Z" fill="#8cf08c" stroke="#0a9a0a" stroke-width="1"/>
<g stroke="#4d4d4d" fill="#4d4d4d" stroke-width="1.1"><path d="M467.5 17V3.5M465 14.5H478" fill="none"/><path d="M465.5 5.5L467.5 2.6L469.5 5.5ZM476.5 12.5L479.4 14.5L476.5 16.5Z" stroke="none"/></g>
<path d="M473.5 3V13" stroke="#1b74b4" stroke-width="1.3"/><path d="M474.4 8.5L477.3 6.2V10.8Z" fill="#e65a0a"/><path d="M477 8.5H479.4" stroke="#e65a0a" stroke-width="1.2"/>
<g transform="translate(498 0)"><path d="M.5 1.5H8L11.7 5.2V14.5H.5Z" fill="#fff" stroke="#8e8e8e"/><path d="M8 1.5V5.2H11.7Z" fill="#e4e4e4" stroke="#8e8e8e" stroke-width=".8"/><path d="M3.4 5.5V11.5M3.4 6.5H5" stroke="#8a7a50" stroke-width="1" fill="none"/><path d="M8.6 7.3H12V11.3H15.6V14.3H12V18.5H8.6V14.3H4.6V11.3H8.6Z" fill="url(#gplus)" stroke="#0a930a" stroke-width=".7"/></g>
<path d="M520 8H525.4L522.7 11Z" fill="#000"/>
<linearGradient id="gclk" x1="0" y1="0" x2=".6" y2="1"><stop offset="0" stop-color="#49a6f6"/><stop offset=".5" stop-color="#1767d0"/><stop offset="1" stop-color="#0a3f9c"/></linearGradient>
<circle cx="544.1" cy="8.9" r="6.6" fill="#f6f6f4" stroke="url(#gclk)" stroke-width="2.5"/><circle cx="544.1" cy="8.9" r="7.9" fill="none" stroke="#0d47a4" stroke-width=".4"/>
<circle cx="544.1" cy="8.9" r="4.4" fill="none" stroke="#8c8c8c" stroke-width=".9" stroke-dasharray=".7 1.6"/>
<path d="M544.1 9.2V5M543.8 8.9L546.8 9.2" stroke="#111" stroke-width="1.3" fill="none"/><rect x="543.4" y="11.4" width="1.6" height=".9" fill="#7ab6f0"/>
<path d="M559 8H564.4L561.7 11Z" fill="#000"/>
<rect x="575.5" y="2.5" width="15.3" height="12.9" fill="#fff" stroke="#2b6abf" stroke-width="1"/><rect x="576" y="3" width="14.3" height="2.4" fill="#4c8ad6"/><path d="M576 9.6H590.3" stroke="#2b6abf" stroke-width="1"/>
<path d="M577.4 8.4L579.4 8.2L581.2 6.8L583 7.4L585 7.2L586.8 6.4L588.8 6.8" fill="none" stroke="#9c1c00" stroke-width="1.3"/><path d="M577.4 13.2L579.4 12.6L581 13L583.2 11.4L585 12.6L586.6 11.2L588.8 13.4" fill="none" stroke="#0a9224" stroke-width="1.3"/>
<path d="M598 8H603.4L600.7 11Z" fill="#000"/>
<path d="M627.1 2.1V13.2L629.4 11.2L631.7 16.1L633.9 15L631.5 10.5L635.1 9.7Z" fill="#4a4a4a"/>
<path d="M659.5 2V8M659.5 11V17M652 9.5H658M661 9.5H667" stroke="#4a4a4a" stroke-width="1.1" fill="none"/><rect x="659" y="9" width="1" height="1" fill="#777"/>
<path d="M693.5 3V16" stroke="#4a4a4a" stroke-width="1.2"/><path d="M716 9.5H728.2" stroke="#4a4a4a" stroke-width="1.2"/><path d="M743.8 16L756.2 3.6" stroke="#4a4a4a" stroke-width="1.1"/>
<g stroke="#4a4a4a" stroke-width="1" fill="none"><path d="M769.7 10.6L778.2 2.8M775 15.2L783.9 7.1M772.8 7.8V14.2M776.4 5V12.6M779.8 3V10.2M782.3 1V7.8M771.6 11H774M775.2 9H777.6M778.6 6.4H781M781.2 4H783.4"/></g>
<path d="M781 13h4v1h-3v1h2v1h-2v1h3v1h-4z" fill="#333" shape-rendering="crispEdges"/>
<path d="M799 2.5H812.5M799 5.5H812.5M799 9.5H812.5M799 13.5H808" stroke="#4a4a4a" stroke-width="1" stroke-dasharray="1 1" fill="none" shape-rendering="crispEdges"/>
<path d="M809 13h4v1h-3v1h2v1h-2v2h-1z" fill="#333" shape-rendering="crispEdges"/>
<text transform="translate(829.6 13.8) scale(0.96 1)" font-size="12.4" fill="#4a4a4a" stroke="#4a4a4a" stroke-width="0" font-weight="bold" xml:space="preserve">A</text>
<rect x="856.5" y="3.5" width="11" height="12" fill="none" stroke="#4a4a4a" stroke-width="1" stroke-dasharray="1 1" shape-rendering="crispEdges"/><rect x="855.5" y="2.3" width="2" height="1.2" fill="#4a4a4a"/>
<text transform="translate(858.4 13.6) scale(1.08 1)" font-size="10.5" fill="#4a4a4a" stroke="#4a4a4a" stroke-width="0" font-weight="bold" xml:space="preserve">T</text>
<path d="M883 6.7L886.8 3L890.6 6.7L888.6 7.4H885Z" fill="#4a4a4a"/><path d="M889.6 12.2L893.4 16L897.2 12.2L895 11.4H891.6Z" fill="#4a4a4a"/><path d="M885.6 10.4L887.6 12.4L892.4 7.4" fill="none" stroke="#4a4a4a" stroke-width="1.3"/>
<path d="M903.8 8H909.1999999999999L906.5 11Z" fill="#000"/>
<text transform="translate(930.2 13) scale(0.917 1)" font-size="10" fill="#333" stroke="#333" stroke-width="0" xml:space="preserve">M1</text>
<text transform="translate(958.1 13) scale(0.917 1)" font-size="10" fill="#333" stroke="#333" stroke-width="0" xml:space="preserve">M5</text>
<text transform="translate(984.4 13) scale(0.917 1)" font-size="10" fill="#333" stroke="#333" stroke-width="0" xml:space="preserve">M15</text>
<text transform="translate(1012.3 13) scale(0.917 1)" font-size="10" fill="#333" stroke="#333" stroke-width="0" xml:space="preserve">M30</text>
<text transform="translate(1043.6 13) scale(0.917 1)" font-size="10" fill="#333" stroke="#333" stroke-width="0" xml:space="preserve">H1</text>
<text transform="translate(1070.7 13) scale(0.917 1)" font-size="10" fill="#333" stroke="#333" stroke-width="0" xml:space="preserve">H4</text>
<text transform="translate(1099.4 13) scale(0.917 1)" font-size="10" fill="#333" stroke="#333" stroke-width="0" xml:space="preserve">D1</text>
<text transform="translate(1126.9 13) scale(0.917 1)" font-size="10" fill="#333" stroke="#333" stroke-width="0" xml:space="preserve">W1</text>
<text transform="translate(1153.7 13) scale(0.917 1)" font-size="10" fill="#333" stroke="#333" stroke-width="0" xml:space="preserve">MN</text>
<path d="M1643.2 9.6L1639.2 13.6" stroke="#1d52d0" stroke-width="2.6" stroke-linecap="round"/><circle cx="1646.6" cy="6.4" r="4.1" fill="#f4f4ff" stroke="#1e5ad8" stroke-width="1.3"/>
<path d="M1663.4 11C1663.4 7.6 1666 6.4 1669 6.4C1672.6 6.4 1674.4 8.4 1674.4 11C1674.4 13.8 1672 15.2 1668.6 15.2L1666.2 17.6L1666.4 14.8C1664.4 14.2 1663.4 12.8 1663.4 11Z" fill="#e2e2ec" stroke="#a4a4a8" stroke-width=".8"/>
<circle cx="1677.4" cy="6.9" r="8.2" fill="url(#gbadge)"/><path d="M1674.2 3.8L1676.6 1.9H1677.7V10H1679.2V11.1H1674V10H1675.9V4L1674.2 5.1Z" fill="#fff"/>
</svg>
</body></html>
